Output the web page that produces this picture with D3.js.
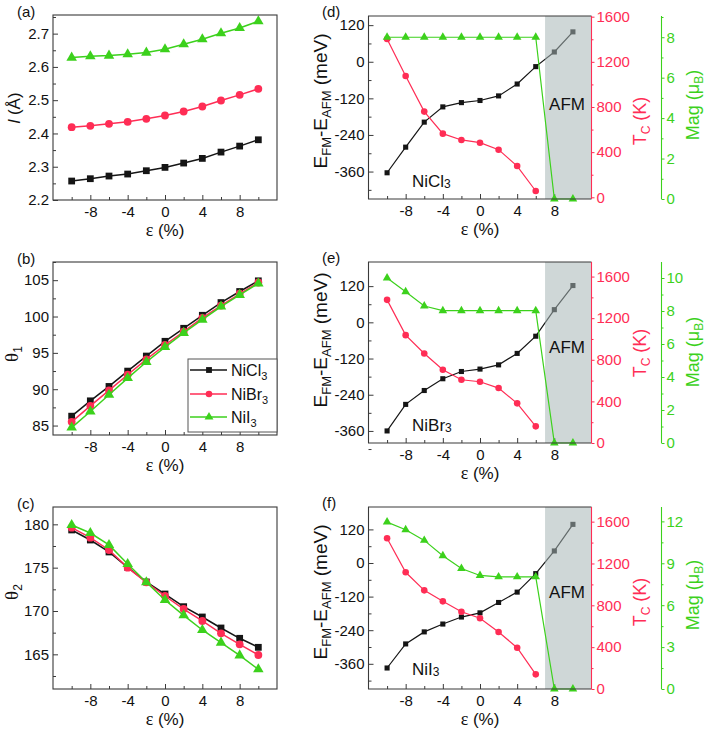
<!DOCTYPE html>
<html><head><meta charset="utf-8">
<script src="https://cdn.jsdelivr.net/npm/d3@7"></script>
<style>body{margin:0;background:#fff} svg{display:block} text{font-family:"Liberation Sans",Arial,sans-serif}</style>
</head><body><svg id="c" width="709" height="730"></svg>
<script>
// ---------- data ----------
const strain = [-10,-8,-6,-4,-2,0,2,4,6,8,10];
const strainFM = [-10,-8,-6,-4,-2,0,2,4,6];
const xMajor = [-8,-4,0,4,8];
const xMinor = [-10,-6,-2,2,6,10];

// (a) bond length l (Å)
const bondNiCl3 = [2.257,2.264,2.272,2.278,2.288,2.298,2.311,2.325,2.344,2.362,2.381];
const bondNiBr3 = [2.419,2.423,2.429,2.435,2.444,2.454,2.466,2.481,2.499,2.516,2.534];
const bondNiI3  = [2.628,2.632,2.634,2.638,2.643,2.653,2.668,2.683,2.701,2.717,2.737];
const bondTicks = [2.2,2.3,2.4,2.5,2.6,2.7];
// (b) theta1
const theta1NiCl3 = [86.29,88.40,90.38,92.49,94.56,96.59,98.38,100.17,101.92,103.44,104.91];
const theta1NiBr3 = [85.51,87.71,89.83,91.99,94.10,96.08,97.92,99.80,101.51,103.13,104.68];
const theta1NiI3  = [84.72,86.93,89.23,91.53,93.74,95.80,97.74,99.57,101.37,102.98,104.54];
const theta1Ticks = [85,90,95,100,105];
// (c) theta2
const theta2NiCl3 = [179.35,178.19,176.81,175.04,173.35,171.96,170.5,169.31,168.04,166.85,165.81];
const theta2NiBr3 = [179.62,178.46,177.04,175.0,173.31,171.73,170.23,168.85,167.42,166.15,164.92];
const theta2NiI3  = [179.92,179.0,177.62,175.42,173.31,171.27,169.5,167.81,166.35,164.88,163.27];
const theta2Ticks = [165,170,175,180];
// (d) NiCl3
const dENiCl3  = [-364,-280,-198,-148,-134,-127,-112,-73,-16,32,98];
const tcNiCl3  = [1402,1075,759,564,508,484,422,277,56];
const magNiCl3 = [8,8,8,8,8,8,8,8,8,0,0];
// (e) NiBr3
const dENiBr3  = [-360,-272,-226,-187,-163,-155,-141,-103,-46,42,122];
const tcNiBr3  = [1376,1037,861,704,608,589,528,381,160];
const magNiBr3 = [10,9.17,8.3,8.02,8.02,8.02,8.02,8.02,8.02,0,0];
// (f) NiI3
const dENiI3  = [-375,-289,-246,-218,-193,-178,-141,-104,-38,43,138];
const tcNiI3  = [1441,1116,943,838,739,676,545,395,140];
const magNiI3 = [11.95,11.4,10.64,9.54,8.63,8.13,8.03,8.03,8.03,0,0];

const eTicks = [-360,-240,-120,0,120];
const tcTicks = [0,400,800,1200,1600];
const afmStart = 7;

const BLACK = "#151515", RED = "#ff2d55", GREEN = "#3cd11c", FRAME = "#3a3a3a";
const TICKFS = 15;

// ---------- helpers ----------
const svg = d3.select("#c");
const fmt = d => String(d);

function styleAxis(sel, color) {
  sel.select(".domain").remove();
  sel.selectAll("line").attr("stroke", color || FRAME).attr("stroke-width", 1);
  sel.selectAll("text").attr("fill", color || "#111").attr("font-size", TICKFS)
     .attr("font-family", '"Liberation Sans",Arial,sans-serif');
}

function xAxes(g, x, f, pad) {
  g.append("g").attr("transform", `translate(0,${f.y1})`)
    .call(d3.axisBottom(x).tickValues(xMajor).tickSize(-5).tickPadding(pad).tickFormat(fmt)).call(styleAxis);
  g.append("g").attr("transform", `translate(0,${f.y1})`)
    .call(d3.axisBottom(x).tickValues(xMinor).tickSize(-3).tickFormat("")).call(styleAxis);
}

function yAxisLeft(g, y, f, ticks, minorTicks, format, pad) {
  g.append("g").attr("transform", `translate(${f.x0},0)`)
    .call(d3.axisLeft(y).tickValues(ticks).tickSize(-5).tickPadding(pad).tickFormat(format)).call(styleAxis);
  g.append("g").attr("transform", `translate(${f.x0},0)`)
    .call(d3.axisLeft(y).tickValues(minorTicks).tickSize(-3).tickFormat("")).call(styleAxis);
}

function series(g, x, y, xs, vals, color, shape, size, lw) {
  const pts = xs.map((v, i) => [v, vals[i]]);
  g.append("path").datum(pts).attr("fill", "none").attr("stroke", color).attr("stroke-width", lw)
    .attr("d", d3.line().x(d => x(d[0])).y(d => y(d[1])));
  g.selectAll(null).data(pts).enter().append("path")
    .attr("transform", d => `translate(${x(d[0])},${y(d[1])})`)
    .attr("d", d3.symbol().type(shape).size(size)).attr("fill", color);
}

function frame(g, f) {
  g.append("rect").attr("x", f.x0).attr("y", f.y0).attr("width", f.x1 - f.x0).attr("height", f.y1 - f.y0)
    .attr("fill", "none").attr("stroke", FRAME).attr("stroke-width", 1.1);
}

function epsLabel(g, cx, y) {
  const t = g.append("text").attr("x", cx).attr("y", y).attr("text-anchor", "middle").attr("font-size", 17).attr("fill", "#111");
  t.append("tspan").attr("font-family", '"Liberation Serif",serif').attr("font-size", 18).text("ε");
  t.append("tspan").text(" (%)");
}

function panelLabel(g, x, y, s) {
  g.append("text").attr("x", x).attr("y", y).attr("font-size", 15).attr("fill", "#111").text(s);
}

// ---------- left panels ----------
function leftPanel(cfg) {
  const f = cfg.f;
  const g = svg.append("g");
  const x = d3.scaleLinear().domain([-12, 12]).range([f.x0, f.x1]);
  const y = d3.scaleLinear().domain(cfg.yDomain).range([f.y1, f.y0]);
  xAxes(g, x, f, 6);
  yAxisLeft(g, y, f, cfg.ticks, cfg.minor, cfg.format, 4);
  series(g, x, y, strain, cfg.s[0], BLACK, d3.symbolSquare, 46, 1.5);
  series(g, x, y, strain, cfg.s[1], RED, d3.symbolCircle, 48, 1.5);
  series(g, x, y, strain, cfg.s[2], GREEN, d3.symbolTriangle, 48, 1.5);
  frame(g, f);
  epsLabel(g, (f.x0 + f.x1) / 2, f.y1 + 36);
  panelLabel(g, 17, f.y0 + 2, cfg.label);
  cfg.ylabel(g.append("text").attr("transform", `translate(${cfg.ylx},${cfg.yly}) rotate(-90)`)
    .attr("text-anchor", "middle").attr("font-size", 17).attr("fill", "#111"));
  return {g, x, y};
}

const pa = leftPanel({
  f: {x0: 53, x1: 277, y0: 15, y1: 200}, yDomain: [2.2, 2.756],
  ticks: bondTicks, minor: [2.25,2.35,2.45,2.55,2.65,2.75], format: d3.format(".1f"),
  s: [bondNiCl3, bondNiBr3, bondNiI3], label: "(a)", ylx: 20, yly: 108,
  ylabel: t => { t.append("tspan").attr("font-style", "italic").text("l"); t.append("tspan").text(" (Å)"); }
});
const pb = leftPanel({
  f: {x0: 53, x1: 277, y0: 262, y1: 435}, yDomain: [83.7, 107.5],
  ticks: theta1Ticks, minor: [87.5,92.5,97.5,102.5,107.5], format: fmt,
  s: [theta1NiCl3, theta1NiBr3, theta1NiI3], label: "(b)", ylx: 18, yly: 354,
  ylabel: t => { t.append("tspan").attr("font-family", '"Liberation Serif",serif').attr("font-size", 19).text("θ");
                 t.append("tspan").attr("font-size", 12).attr("dy", 4).text("1"); }
});
const pc = leftPanel({
  f: {x0: 53, x1: 277, y0: 507, y1: 689}, yDomain: [161, 182],
  ticks: theta2Ticks, minor: [162.5,167.5,172.5,177.5], format: fmt,
  s: [theta2NiCl3, theta2NiBr3, theta2NiI3], label: "(c)", ylx: 18, yly: 592,
  ylabel: t => { t.append("tspan").attr("font-family", '"Liberation Serif",serif').attr("font-size", 19).text("θ");
                 t.append("tspan").attr("font-size", 12).attr("dy", 4).text("2"); }
});

// legend in (b)
(function legend() {
  const g = pb.g;
  g.append("rect").attr("x", 188).attr("y", 359).attr("width", 89).attr("height", 73)
    .attr("fill", "#fff").attr("stroke", "#555").attr("stroke-width", 1);
  const items = [["NiCl", "3", BLACK, d3.symbolSquare, 370], ["NiBr", "3", RED, d3.symbolCircle, 394], ["NiI", "3", GREEN, d3.symbolTriangle, 417]];
  items.forEach(([a, b, c, s, yy]) => {
    g.append("line").attr("x1", 190).attr("x2", 227).attr("y1", yy).attr("y2", yy).attr("stroke", c).attr("stroke-width", 1.5);
    g.append("path").attr("transform", `translate(209,${yy})`).attr("d", d3.symbol().type(s).size(34)).attr("fill", c);
    const t = g.append("text").attr("x", 231).attr("y", yy + 6).attr("font-size", 16).attr("fill", "#111");
    t.append("tspan").text(a);
    t.append("tspan").attr("font-size", 11).attr("dy", 4).text(b);
  });
})();

// ---------- right panels ----------
function rightPanel(cfg) {
  const f = cfg.f;
  const g = svg.append("g");
  const x = d3.scaleLinear().domain([-12, 12]).range([f.x0, f.x1]);
  const yE = d3.scaleLinear().domain(cfg.eDomain).range([f.y1, f.y0]);
  const yT = d3.scaleLinear().domain(cfg.tDomain).range([f.y1, f.y0]);
  const yM = d3.scaleLinear().domain(cfg.mDomain).range([f.y1, f.y0]);
  const magAxisX = 661.5;

  xAxes(g, x, f, 6);
  yAxisLeft(g, yE, f, eTicks, [-420,-300,-180,-60,60], fmt, 4);

  // E_FM - E_AFM
  series(g, x, yE, strain, cfg.dE, BLACK, d3.symbolSquare, 26, 1.2);
  // AFM shaded region
  g.append("rect").attr("x", x(afmStart)).attr("y", f.y0).attr("width", f.x1 - x(afmStart)).attr("height", f.y1 - f.y0)
    .attr("fill", "#a7b6b6").attr("opacity", 0.54);
  // Tc
  series(g, x, yT, strainFM, cfg.tc, RED, d3.symbolCircle, 34, 1.2);
  // Mag
  series(g, x, yM, strain, cfg.mag, GREEN, d3.symbolTriangle, 32, 1.2);

  // frame (left/top/bottom dark, right red)
  g.append("path").attr("d", `M${f.x1},${f.y0}H${f.x0}V${f.y1}H${f.x1}`).attr("fill", "none").attr("stroke", FRAME).attr("stroke-width", 1.1);
  // Tc axis
  g.append("g").attr("transform", `translate(${f.x1},0)`)
    .call(d3.axisRight(yT).tickValues(tcTicks).tickSize(3).tickPadding(2).tickFormat(fmt)).call(s => styleAxis(s, RED));
  g.append("g").attr("transform", `translate(${f.x1},0)`)
    .call(d3.axisRight(yT).tickValues([200,600,1000,1400]).tickSize(2).tickFormat("")).call(s => styleAxis(s, RED));
  g.append("line").attr("x1", f.x1).attr("x2", f.x1).attr("y1", f.y0).attr("y2", f.y1).attr("stroke", RED).attr("stroke-width", 1.1);
  // Mag axis
  g.append("g").attr("transform", `translate(${magAxisX},0)`)
    .call(d3.axisRight(yM).tickValues(cfg.mTicks).tickSize(3).tickPadding(2).tickFormat(fmt)).call(s => styleAxis(s, GREEN));
  g.append("g").attr("transform", `translate(${magAxisX},0)`)
    .call(d3.axisRight(yM).tickValues(cfg.mMinor).tickSize(2).tickFormat("")).call(s => styleAxis(s, GREEN));
  g.append("line").attr("x1", magAxisX).attr("x2", magAxisX).attr("y1", f.y0).attr("y2", f.y1).attr("stroke", GREEN).attr("stroke-width", 1.1);

  // labels
  epsLabel(g, (f.x0 + f.x1) / 2, f.y1 + 36);
  panelLabel(g, 322, f.y0 + 1, cfg.label);
  const eL = g.append("text").attr("transform", `translate(327,${cfg.eY}) rotate(-90)`).attr("text-anchor", "middle")
    .attr("font-size", 19).attr("fill", "#111");
  eL.append("tspan").text("E");
  eL.append("tspan").attr("font-size", 13).attr("dy", 4).text("FM");
  eL.append("tspan").attr("dy", -4).text("-E");
  eL.append("tspan").attr("font-size", 13).attr("dy", 4).text("AFM");
  eL.append("tspan").attr("dy", -4).text(" (meV)");

  const tL = g.append("text").attr("transform", `translate(646,${cfg.tY}) rotate(-90)`).attr("text-anchor", "middle")
    .attr("font-size", 18).attr("fill", RED);
  tL.append("tspan").text("T");
  tL.append("tspan").attr("font-size", 12).attr("dy", 4).text("C");
  tL.append("tspan").attr("dy", -4).text(" (K)");

  const mL = g.append("text").attr("transform", `translate(699,${cfg.mY}) rotate(-90)`).attr("text-anchor", "middle")
    .attr("font-size", 18).attr("fill", GREEN);
  mL.append("tspan").text("Mag (μ");
  mL.append("tspan").attr("font-size", 12).attr("dy", 4).text("B");
  mL.append("tspan").attr("dy", -4).text(")");

  g.append("text").attr("x", 567).attr("y", cfg.afmY).attr("text-anchor", "middle").attr("font-size", 17).attr("fill", "#111").text("AFM");
  const nm = g.append("text").attr("x", 412).attr("y", cfg.nameY).attr("font-size", 17).attr("fill", "#111");
  nm.append("tspan").text(cfg.name);
  nm.append("tspan").attr("font-size", 12).attr("dy", 1).text("3");
}

rightPanel({ f: {x0: 368.5, x1: 591.5, y0: 16, y1: 199}, eDomain: [-450, 150], tDomain: [-15, 1606], mDomain: [0, 9.05],
  mTicks: [0,2,4,6,8], mMinor: [1,3,5,7,9], dE: dENiCl3, tc: tcNiCl3, mag: magNiCl3,
  label: "(d)", eY: 101, tY: 121, mY: 105, afmY: 110, name: "NiCl", nameY: 187 });
rightPanel({ f: {x0: 368.5, x1: 591.5, y0: 262, y1: 443}, eDomain: [-400, 200], tDomain: [0, 1740], mDomain: [0, 10.97],
  mTicks: [0,2,4,6,8,10], mMinor: [1,3,5,7,9], dE: dENiBr3, tc: tcNiBr3, mag: magNiBr3,
  label: "(e)", eY: 340, tY: 353, mY: 352, afmY: 353, name: "NiBr", nameY: 431 });
rightPanel({ f: {x0: 368.5, x1: 591.5, y0: 507, y1: 689}, eDomain: [-450, 200], tDomain: [0, 1740], mDomain: [0, 13.03],
  mTicks: [0,3,6,9,12], mMinor: [1.5,4.5,7.5,10.5], dE: dENiI3, tc: tcNiI3, mag: magNiI3,
  label: "(f)", eY: 592, tY: 602, mY: 595, afmY: 598, name: "NiI", nameY: 675 });
</script></body></html>
